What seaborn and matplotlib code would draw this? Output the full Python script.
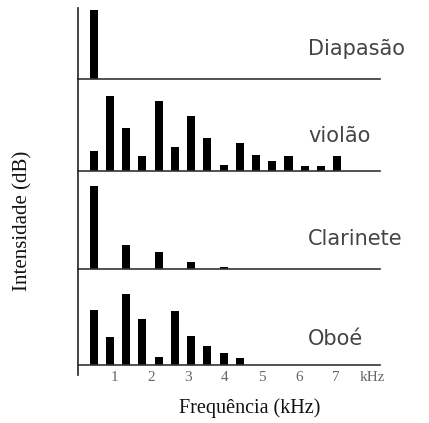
import numpy as np
import pandas as pd
import matplotlib
matplotlib.use("Agg")
import matplotlib.pyplot as plt
import seaborn as sns

# harmonic frequencies (kHz) and relative intensities
instruments = ["Diapasão", "violão", "Clarinete", "Oboé"]

freq_diapasao = [0.44]
int_diapasao = [69]

freq_violao = [0.44, 0.88, 1.32, 1.76, 2.20, 2.64, 3.08, 3.52,
               3.96, 4.40, 4.84, 5.28, 5.72, 6.16, 6.60, 7.04]
int_violao = [20, 75, 43, 15, 70, 24, 55, 33, 6, 28, 16, 10, 15, 5, 5, 15]

freq_clarinete = [0.44, 1.32, 2.20, 3.08, 3.96]
int_clarinete = [83, 24, 17, 7, 2]

freq_oboe = [0.44, 0.88, 1.32, 1.76, 2.20, 2.64, 3.08, 3.52, 3.96, 4.40]
int_oboe = [55, 28, 71, 46, 8, 54, 29, 19, 12, 7]

tick_pos = [0, 1, 2, 3, 4, 5, 6, 7, 8]
tick_labels = ["", "1", "2", "3", "4", "5", "6", "7", "kHz"]

series = [(freq_diapasao, int_diapasao), (freq_violao, int_violao),
          (freq_clarinete, int_clarinete), (freq_oboe, int_oboe)]

sns.set_style("white")
plt.rcParams["font.family"] = ["DejaVu Sans"]

W, H = 429, 423
fig = plt.figure(figsize=(W / 100, H / 100), dpi=100)

# panel extents in pixels (top, bottom) and y-limits
panels = [(8, 79, (0, 71)), (79, 171, (0, 92)), (171, 269, (0, 98)), (269, 375, (-10, 96))]
label_y = [24, 29, 24, 20]

left_px, right_px = 77.5, 380
bar_w = 0.22

for i, (name, (fx, fy)) in enumerate(zip(instruments, series)):
    top, bot, ylim = panels[i]
    ax = fig.add_axes([left_px / W, 1 - bot / H, (right_px - left_px) / W, (bot - top) / H])
    df = pd.DataFrame({"freq": fx, "intens": fy})
    spacing = np.min(np.diff(fx)) if len(fx) > 1 else 1.0
    sns.barplot(data=df, x="freq", y="intens", native_scale=True, color="black",
                saturation=1, width=bar_w / spacing, errorbar=None, linewidth=0, ax=ax)
    ax.set_xlim(0, 8.2)
    ax.set_ylim(*ylim)
    ax.set_xlabel("")
    ax.set_ylabel("")
    ax.set_yticks([])
    ax.patch.set_alpha(0)
    for s in ["top", "right"]:
        ax.spines[s].set_visible(False)
    ax.spines["left"].set_linewidth(1.2)
    ax.spines["left"].set_color("#222222")
    ax.spines["bottom"].set_linewidth(1.2)
    ax.spines["bottom"].set_color("#333333")
    ax.spines["bottom"].set_position(("data", 0))
    ax.set_xticks(tick_pos)
    ax.tick_params(axis="x", direction="out", length=2.5, width=1, color="#333333", pad=1.5)
    if i == len(instruments) - 1:
        ax.set_xticklabels(tick_labels, fontfamily="Liberation Serif", fontsize=11, color="#666666")
    else:
        ax.set_xticklabels([])
    ax.text(6.25, label_y[i], name, fontsize=15, color="#444444", ha="left", va="baseline")

fig.text(23 / W, 1 - 221 / H, "Intensidade (dB)", rotation=90, ha="center", va="center",
         fontfamily="Liberation Serif", fontsize=15, color="#111111")
fig.text(250 / W, 1 - 408 / H, "Frequência (kHz)", ha="center", va="center",
         fontfamily="Liberation Serif", fontsize=14.5, color="#111111")

fig.savefig("out.png", dpi=100)
